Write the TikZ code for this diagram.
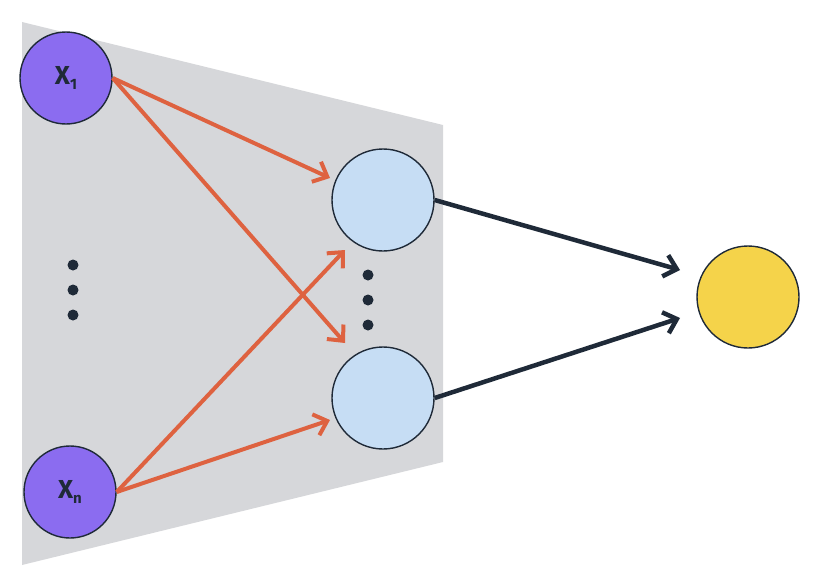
\documentclass[tikz,border=0pt]{standalone}
\usepackage{fontspec}
\setmainfont{Fira Sans}
\usetikzlibrary{arrows.meta}
\definecolor{pur}{HTML}{8B6CF0}
\definecolor{lb}{HTML}{C6DDF4}
\definecolor{yel}{HTML}{F5D34A}
\definecolor{org}{HTML}{DE6240}
\definecolor{gr}{HTML}{D6D7DA}
\definecolor{dk}{HTML}{1F2A38}
\newcommand{\subtxt}[1]{\raisebox{-0.35ex}{\fontsize{15}{16}\selectfont #1}}
\begin{document}
\begin{tikzpicture}[x=1pt,y=-1pt,
  inp/.style={circle,draw=dk,line width=1.4pt,fill=pur,text=dk,minimum size=92pt,inner sep=0pt,font=\bfseries\fontsize{26}{28}\selectfont},
  hid/.style={circle,draw=dk,line width=1.4pt,fill=lb,minimum size=102pt,inner sep=0pt},
  outn/.style={circle,draw=dk,line width=1.4pt,fill=yel,minimum size=102pt,inner sep=0pt},
  oar/.style={org,line width=4pt,-{Straight Barb[length=12pt,width=22pt,line width=4pt]}},
  dar/.style={dk,line width=4.5pt,-{Straight Barb[length=12pt,width=22pt,line width=4.5pt]}},
  dotc/.style={circle,fill=dk,inner sep=0pt,minimum size=11pt}]
\useasboundingbox (0,0) rectangle (818,586);
\fill[gr] (22,22) -- (443,125) -- (443,462) -- (22,565) -- cycle;
\node[inp] (x1) at (66,78) {X\subtxt{1}};
\node[inp] (xn) at (70,492) {X\subtxt{n}};
\node[hid] (h1) at (383,200) {};
\node[hid] (h2) at (383,398) {};
\node[outn] (y) at (748,297) {};
\coordinate (a1) at (330,178);
\coordinate (a2) at (345,343);
\coordinate (a3) at (345,250);
\coordinate (a4) at (330,420);
\coordinate (b1) at (680,270);
\coordinate (b2) at (680,318);
\draw[oar] (x1.east) -- (a1);
\draw[oar] (x1.east) -- (a2);
\draw[oar] (xn.east) -- (a3);
\draw[oar] (xn.east) -- (a4);
\draw[dar] (h1.east) -- (b1);
\draw[dar] (h2.east) -- (b2);
\foreach \i/\yy in {1/265,2/290,3/315} \node[dotc] (l\i) at (73,\yy) {};
\foreach \i/\yy in {1/275,2/300,3/325} \node[dotc] (m\i) at (368,\yy) {};
\end{tikzpicture}
\end{document}
